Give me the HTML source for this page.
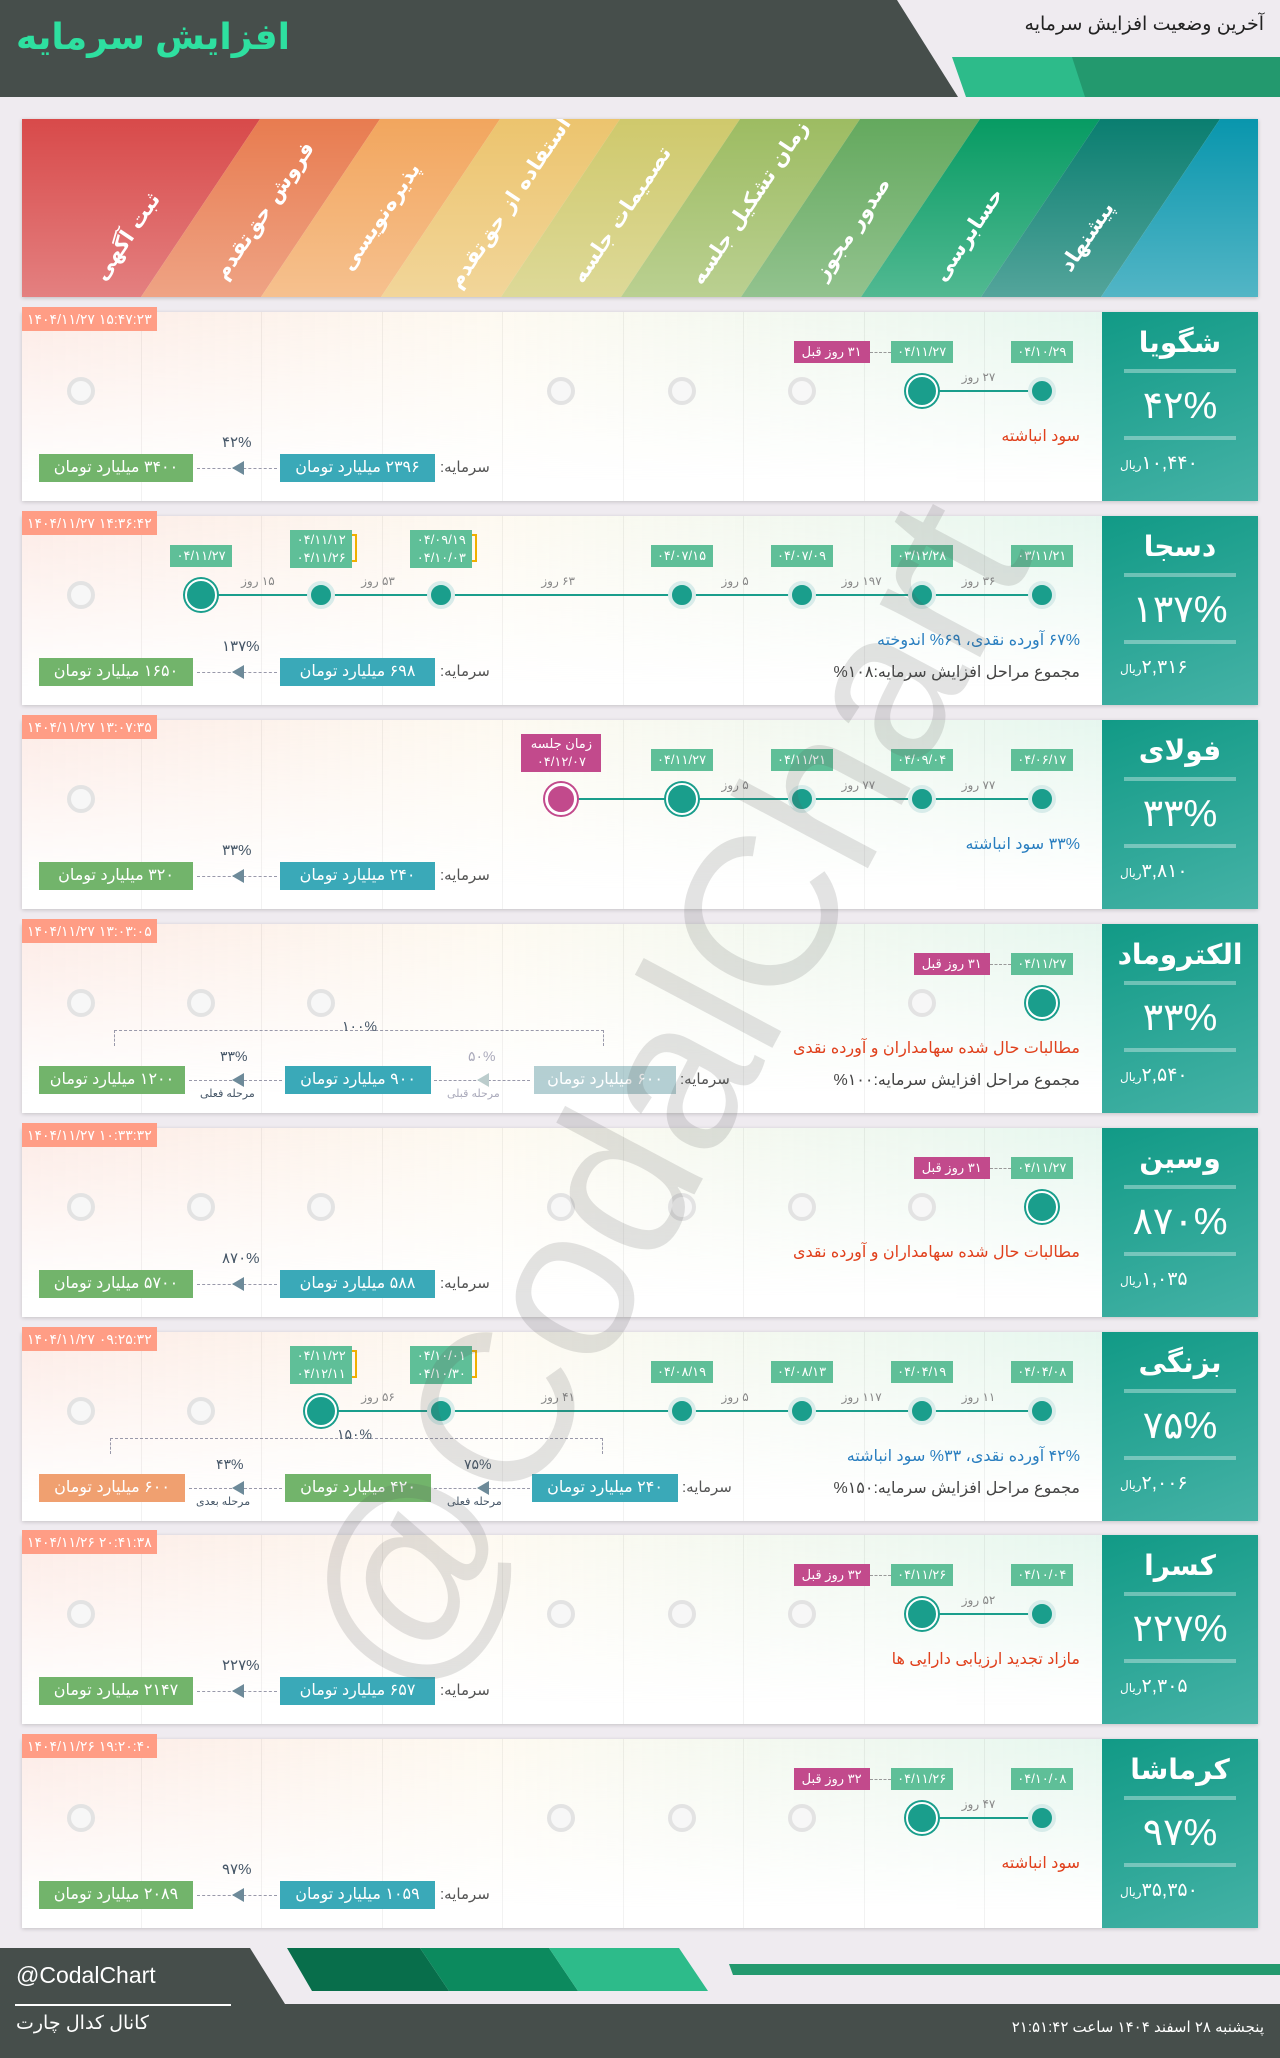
<!DOCTYPE html>
<html><head><meta charset="utf-8">
<style>
*{margin:0;padding:0;box-sizing:border-box}
body{width:1280px;height:2058px;background:#efebf0;position:relative;overflow:hidden;font-family:"Liberation Sans","DejaVu Sans",sans-serif}
.a{position:absolute}
.card{position:absolute;left:22px;width:1236px;height:189px;background:#fff;box-shadow:0 1px 4px rgba(0,0,0,.18);overflow:hidden}
.tint{position:absolute;left:0;top:0;width:1080px;height:189px;background:linear-gradient(90deg,rgba(250,215,205,.5),rgba(250,240,215,.35) 45%,rgba(210,240,225,.55));-webkit-mask:linear-gradient(#000,rgba(0,0,0,0) 90%);mask:linear-gradient(#000,rgba(0,0,0,0) 90%)}
.vl{position:absolute;top:0;width:1px;height:189px;background:rgba(0,0,0,.05)}
.panel{position:absolute;left:1080px;top:0;width:156px;height:189px;background:linear-gradient(160deg,#119a86,#45b2a6);color:#fff;text-align:center}
.ts{position:absolute;height:24px;background:#ff9d85;color:#fff;font-size:14px;line-height:24px;padding:0 5px;direction:ltr}
.c{position:absolute;width:28px;height:28px;border-radius:50%;border:4px solid #e3e3e3;background:#f7f7f7}
.tag{position:absolute;background:#5fbf98;color:#fff;font-size:13px;line-height:22px;height:22px;text-align:center;white-space:nowrap;direction:rtl}
.pk{background:#c24a8c}
.dl{position:absolute;font-size:12px;color:#888;white-space:nowrap;direction:rtl}
.box{position:absolute;height:28px;line-height:28px;color:#fff;font-size:16px;text-align:center;white-space:nowrap;direction:rtl}
.lbl{position:absolute;font-size:15px;color:#555;direction:rtl;white-space:nowrap}
.desc{position:absolute;right:178px;font-size:16px;direction:rtl;white-space:nowrap}
</style></head><body>
<svg class="a" style="left:0;top:0" width="1280" height="98">
<polygon points="0,0 897,0 958,97 0,97" fill="#464e4b"/>
<polygon points="952,57 1280,57 1280,97 966,97" fill="#2dbb8a"/>
<polygon points="1072,57 1280,57 1280,97 1085,97" fill="#23996e"/>
</svg>
<div class="a" style="left:16px;top:16px;font-size:36px;font-weight:bold;color:#2ee0a0;direction:rtl">افزایش سرمایه</div>
<div class="a" style="right:16px;top:13px;font-size:19px;color:#222;direction:rtl">آخرین وضعیت افزایش سرمایه</div>
<svg class="a" style="left:22px;top:119px;box-shadow:0 1px 4px rgba(0,0,0,.2)" width="1236" height="178" id="band"></svg>
<div id="rows"></div>
<div class="a" style="left:663px;top:1096px;transform:translate(-50%,-50%) rotate(-62deg);font-size:215px;color:rgba(90,90,90,.17);white-space:nowrap;direction:ltr">@CodalChart</div>
<svg class="a" style="left:0;top:1948px" width="1280" height="110">
<rect x="0" y="56" width="1280" height="54" fill="#464e4b"/>
<polygon points="0,0 250,0 285,56 0,56" fill="#464e4b"/>
<polygon points="287,0 420,0 449,43 312,43" fill="#086e4b"/>
<polygon points="420,0 549,0 578,43 449,43" fill="#0c8a5e"/>
<polygon points="549,0 679,0 708,43 578,43" fill="#2dbb8a"/>
<polygon points="729,16 1280,16 1280,27 733,27" fill="#23996e"/>
</svg>
<div class="a" style="left:16px;top:1962px;font-size:23px;color:#fff">@CodalChart</div>
<div class="a" style="left:15px;top:2004px;width:216px;height:2px;background:#fff"></div>
<div class="a" style="left:16px;top:2012px;font-size:19px;color:#fff;direction:rtl">کانال کدال چارت</div>
<div class="a" style="right:16px;top:2018px;font-size:15px;color:#fff;direction:rtl">پنجشنبه ۲۸ اسفند ۱۴۰۴ ساعت ۲۱:۵۱:۴۲</div>
<script>
var band=document.getElementById('band'),s='';
var cols=['#d84a4a','#e87c50','#f2a65e','#ecc46e','#cfc96c','#9dbc62','#64a95e','#079b63','#0a7e70','#0996ad'];
s+='<defs><linearGradient id="w" x1="0" y1="0" x2="0" y2="1"><stop offset="0" stop-color="#fff" stop-opacity="0"/><stop offset="1" stop-color="#fff" stop-opacity=".3"/></linearGradient></defs>';
for(var k=0;k<10;k++){var tl=k==0?0:238+120*(k-1),tr=238+120*k,bl=k==0?0:119+120*(k-1),br=119+120*k;if(k==9){tr=1400;br=1400}
s+='<polygon points="'+tl+',0 '+tr+',0 '+br+',178 '+bl+',178" fill="'+cols[k]+'"/>';}
s+='<rect width="1236" height="178" fill="url(#w)"/>';
var labs=['ثبت آگهی','فروش حق‌تقدم','پذیره‌نویسی','استفاده از حق‌تقدم','تصمیمات جلسه','زمان تشکیل جلسه','صدور مجوز','حسابرسی','پیشنهاد'];
var cys=[118,92,98,84,96,84,110,116,118];
labs.forEach(function(t,i){var cy=cys[i],cx=109+120*i-(cy-113)*119/178;s+='<text x="'+cx+'" y="'+cy+'" transform="rotate(-56 '+cx+' '+cy+')" text-anchor="middle" dominant-baseline="middle" fill="#fff" font-weight="bold" font-size="21" font-family="DejaVu Sans,sans-serif" direction="rtl">'+t+'</text>';});
band.innerHTML=s;

function cx(i){return 59+120.1*i}
var R=[
{n:'شگویا',p:'۴۲%',pr:'۱۰,۴۴۰',ts:'۱۴۰۴/۱۱/۲۷ ۱۵:۴۷:۲۳',g:[0,4,5,6],act:7,f:[8],line:[7,8],
 tags:[[8,'۰۴/۱۰/۲۹'],[7,'۰۴/۱۱/۲۷']],pink:[6.25,'۳۱ روز قبل'],days:[[7.5,'۲۷ روز']],
 d:[['سود انباشته','#e0401c']],cap:['۲۳۹۶ میلیارد تومان','۳۴۰۰ میلیارد تومان','۴۲%']},
{n:'دسجا',p:'۱۳۷%',pr:'۲,۳۱۶',ts:'۱۴۰۴/۱۱/۲۷ ۱۴:۳۶:۴۲',g:[0],act:1,f:[2,3,5,6,7,8],line:[1,8],
 tags:[[8,'۰۳/۱۱/۲۱'],[7,'۰۳/۱۲/۲۸'],[6,'۰۴/۰۷/۰۹'],[5,'۰۴/۰۷/۱۵'],[3,'۰۴/۰۹/۱۹','۰۴/۱۰/۰۳'],[2,'۰۴/۱۱/۱۲','۰۴/۱۱/۲۶'],[1,'۰۴/۱۱/۲۷']],
 days:[[7.5,'۳۶ روز'],[6.5,'۱۹۷ روز'],[5.5,'۵ روز'],[4,'۶۳ روز'],[2.5,'۵۳ روز'],[1.5,'۱۵ روز']],
 d:[['۶۷% آورده نقدی، ۶۹% اندوخته','#2a7fc0'],['مجموع مراحل افزایش سرمایه:۱۰۸%','#444']],cap:['۶۹۸ میلیارد تومان','۱۶۵۰ میلیارد تومان','۱۳۷%']},
{n:'فولای',p:'۳۳%',pr:'۳,۸۱۰',ts:'۱۴۰۴/۱۱/۲۷ ۱۳:۰۷:۳۵',g:[0],act:5,pinkc:4,f:[6,7,8],line:[4,8],
 tags:[[8,'۰۴/۰۶/۱۷'],[7,'۰۴/۰۹/۰۴'],[6,'۰۴/۱۱/۲۱'],[5,'۰۴/۱۱/۲۷']],ptag:[4,'زمان جلسه','۰۴/۱۲/۰۷'],
 days:[[7.5,'۷۷ روز'],[6.5,'۷۷ روز'],[5.5,'۵ روز']],d:[['۳۳% سود انباشته','#2a7fc0']],cap:['۲۴۰ میلیارد تومان','۳۲۰ میلیارد تومان','۳۳%']},
{n:'الکتروماد',p:'۳۳%',pr:'۲,۵۴۰',ts:'۱۴۰۴/۱۱/۲۷ ۱۳:۰۳:۰۵',g:[0,1,2,7],act:8,f:[],
 tags:[[8,'۰۴/۱۱/۲۷']],pink:[7.25,'۳۱ روز قبل'],days:[],
 d:[['مطالبات حال شده سهامداران و آورده نقدی','#e0401c'],['مجموع مراحل افزایش سرمایه:۱۰۰%','#444']],three:1},
{n:'وسین',p:'۸۷۰%',pr:'۱,۰۳۵',ts:'۱۴۰۴/۱۱/۲۷ ۱۰:۳۳:۳۲',g:[0,1,2,4,5,6,7],act:8,f:[],
 tags:[[8,'۰۴/۱۱/۲۷']],pink:[7.25,'۳۱ روز قبل'],days:[],
 d:[['مطالبات حال شده سهامداران و آورده نقدی','#e0401c']],cap:['۵۸۸ میلیارد تومان','۵۷۰۰ میلیارد تومان','۸۷۰%']},
{n:'بزنگی',p:'۷۵%',pr:'۲,۰۰۶',ts:'۱۴۰۴/۱۱/۲۷ ۰۹:۲۵:۳۲',g:[0,1],act:2,f:[3,5,6,7,8],line:[2,8],
 tags:[[8,'۰۴/۰۴/۰۸'],[7,'۰۴/۰۴/۱۹'],[6,'۰۴/۰۸/۱۳'],[5,'۰۴/۰۸/۱۹'],[3,'۰۴/۱۰/۰۱','۰۴/۱۰/۳۰'],[2,'۰۴/۱۱/۲۲','۰۴/۱۲/۱۱']],
 days:[[7.5,'۱۱ روز'],[6.5,'۱۱۷ روز'],[5.5,'۵ روز'],[4,'۴۱ روز'],[2.5,'۵۶ روز']],
 d:[['۴۲% آورده نقدی، ۳۳% سود انباشته','#2a7fc0'],['مجموع مراحل افزایش سرمایه:۱۵۰%','#444']],three:2},
{n:'کسرا',p:'۲۲۷%',pr:'۲,۳۰۵',ts:'۱۴۰۴/۱۱/۲۶ ۲۰:۴۱:۳۸',g:[0,4,5,6],act:7,f:[8],line:[7,8],
 tags:[[8,'۰۴/۱۰/۰۴'],[7,'۰۴/۱۱/۲۶']],pink:[6.25,'۳۲ روز قبل'],days:[[7.5,'۵۲ روز']],
 d:[['مازاد تجدید ارزیابی دارایی ها','#e0401c']],cap:['۶۵۷ میلیارد تومان','۲۱۴۷ میلیارد تومان','۲۲۷%']},
{n:'کرماشا',p:'۹۷%',pr:'۳۵,۳۵۰',ts:'۱۴۰۴/۱۱/۲۶ ۱۹:۲۰:۴۰',g:[0,4,5,6],act:7,f:[8],line:[7,8],
 tags:[[8,'۰۴/۱۰/۰۸'],[7,'۰۴/۱۱/۲۶']],pink:[6.25,'۳۲ روز قبل'],days:[[7.5,'۴۷ روز']],
 d:[['سود انباشته','#e0401c']],cap:['۱۰۵۹ میلیارد تومان','۲۰۸۹ میلیارد تومان','۹۷%']}
];
var out='';
function arrow(l,w,ax,c){return '<div class="a" style="left:'+l+'px;top:156px;width:'+w+'px;border-top:1px dashed #99a"></div><div class="a" style="left:'+ax+'px;top:149px;width:0;height:0;border-top:7px solid transparent;border-bottom:7px solid transparent;border-right:12px solid '+c+'"></div>';}
R.forEach(function(r,k){
 var T=Math.round(312+203.9*k),h='';
 h+='<div class="tint"></div>';
 [119,239,360,480,601,721,842,962].forEach(function(x){h+='<div class="vl" style="left:'+x+'px"></div>'});
 var cy=79;
 if(r.line)h+='<div class="a" style="left:'+cx(r.line[0])+'px;top:'+(cy-1)+'px;width:'+(cx(r.line[1])-cx(r.line[0]))+'px;height:2px;background:#1a9e8c"></div>';
 r.g.forEach(function(i){h+='<div class="c" style="left:'+(cx(i)-14)+'px;top:'+(cy-14)+'px"></div>'});
 r.f.forEach(function(i){h+='<div class="c" style="left:'+(cx(i)-14)+'px;top:'+(cy-14)+'px;background:#1a9e8c;border-color:#d8ecea"></div>'});
 h+='<div class="c" style="left:'+(cx(r.act)-16)+'px;top:'+(cy-16)+'px;width:32px;height:32px;background:#1a9e8c;border:2px solid #fff;box-shadow:0 0 0 2px #1a9e8c"></div>';
 if(r.pinkc!=null)h+='<div class="c" style="left:'+(cx(r.pinkc)-16)+'px;top:'+(cy-16)+'px;width:32px;height:32px;background:#c24a8c;border:3px solid #fff;box-shadow:0 0 0 2px #c24a8c"></div>';
 r.tags.forEach(function(t){var x=cx(t[0]);if(t[2]){h+='<div class="tag" style="left:'+(x-31)+'px;top:14px;width:62px;height:38px;line-height:18px;padding-top:1px">'+t[1]+'<br>'+t[2]+'</div><div class="a" style="left:'+(x+31)+'px;top:18px;width:5px;height:28px;border:2px solid #f0b000;border-left:none"></div>';}
  else h+='<div class="tag" style="left:'+(x-31)+'px;top:29px;width:62px">'+t[1]+'</div>';});
 if(r.ptag){var x=cx(r.ptag[0]);h+='<div class="tag pk" style="left:'+(x-40)+'px;top:14px;width:80px;height:38px;line-height:18px;padding-top:1px">'+r.ptag[1]+'<br>'+r.ptag[2]+'</div>';}
 if(r.pink){var x=cx(r.pink[0]);h+='<div class="tag pk" style="left:'+(x-38)+'px;top:29px;width:76px">'+r.pink[1]+'</div><div class="a" style="left:'+(x+38)+'px;top:40px;width:'+(cx(Math.ceil(r.pink[0]))-31-x-38)+'px;border-top:1px dashed #999"></div>';}
 r.days.forEach(function(d){h+='<div class="dl" style="left:'+(cx(d[0])-20)+'px;top:58px">'+d[1]+'</div>'});
 r.d.forEach(function(d,j){h+='<div class="desc" style="top:'+(j?146:114)+'px;color:'+d[1]+'">'+d[0]+'</div>'});
 if(r.cap){
  h+='<div class="box" style="left:258px;top:142px;width:155px;background:#3aa9b8">'+r.cap[0]+'</div>';
  h+='<div class="lbl" style="left:418px;top:146px">سرمایه:</div>';
  h+='<div class="box" style="left:17px;top:142px;width:154px;background:#72b46b">'+r.cap[1]+'</div>';
  h+=arrow(175,80,210,'#6d8a99');
  h+='<div class="a" style="left:200px;top:121px;font-size:15px;color:#456">'+r.cap[2]+'</div>';
 } else if(r.three==1){
  h+='<div class="a" style="left:92px;top:106px;width:490px;height:16px;border:1px dashed #99a;border-bottom:none"></div><div class="a" style="left:320px;top:94px;font-size:14px;color:#456">۱۰۰%</div>';
  h+='<div class="box" style="left:512px;top:142px;width:142px;background:rgba(106,159,168,.5)">۶۰۰ میلیارد تومان</div>';
  h+='<div class="lbl" style="left:658px;top:146px">سرمایه:</div>';
  h+='<div class="box" style="left:263px;top:142px;width:146px;background:#3aa9b8">۹۰۰ میلیارد تومان</div>';
  h+='<div class="box" style="left:17px;top:142px;width:146px;background:#72b46b">۱۲۰۰ میلیارد تومان</div>';
  h+=arrow(412,96,455,'#bcc');
  h+='<div class="a" style="left:446px;top:124px;font-size:14px;color:#aab">۵۰%</div><div class="a" style="left:425px;top:163px;font-size:11px;color:#aab;direction:rtl">مرحله قبلی</div>';
  h+=arrow(167,93,210,'#6d8a99');
  h+='<div class="a" style="left:198px;top:124px;font-size:14px;color:#456">۳۳%</div><div class="a" style="left:178px;top:163px;font-size:11px;color:#456;direction:rtl">مرحله فعلی</div>';
 } else {
  h+='<div class="a" style="left:88px;top:106px;width:493px;height:16px;border:1px dashed #99a;border-bottom:none"></div><div class="a" style="left:315px;top:94px;font-size:14px;color:#456">۱۵۰%</div>';
  h+='<div class="box" style="left:510px;top:142px;width:146px;background:#3aa9b8">۲۴۰ میلیارد تومان</div>';
  h+='<div class="lbl" style="left:660px;top:146px">سرمایه:</div>';
  h+='<div class="box" style="left:263px;top:142px;width:146px;background:#72b46b">۴۲۰ میلیارد تومان</div>';
  h+='<div class="box" style="left:17px;top:142px;width:146px;background:#f0a070">۶۰۰ میلیارد تومان</div>';
  h+=arrow(412,96,455,'#6d8a99');
  h+='<div class="a" style="left:442px;top:124px;font-size:14px;color:#456">۷۵%</div><div class="a" style="left:425px;top:163px;font-size:11px;color:#456;direction:rtl">مرحله فعلی</div>';
  h+=arrow(167,93,210,'#6d8a99');
  h+='<div class="a" style="left:194px;top:124px;font-size:14px;color:#456">۴۳%</div><div class="a" style="left:174px;top:163px;font-size:11px;color:#456;direction:rtl">مرحله بعدی</div>';
 }
 h+='<div class="panel"><div style="margin-top:14px;font-size:28px;font-weight:bold;direction:rtl;white-space:nowrap">'+r.n+'</div><div style="margin:10px auto 0;width:112px;height:4px;background:rgba(255,255,255,.35)"></div><div style="margin-top:10px;font-size:38px;direction:ltr">'+r.p+'</div><div style="margin:8px auto 0;width:112px;height:4px;background:rgba(255,255,255,.35)"></div><div style="margin-top:12px;font-size:19px;direction:rtl;text-align:left;padding-left:18px;white-space:nowrap">'+r.pr+'<span style="font-size:12px">ریال</span></div></div>';
 out+='<div class="card" style="top:'+T+'px">'+h+'</div><div class="ts" style="left:22px;top:'+(T-5)+'px">'+r.ts+'</div>';
});
document.getElementById('rows').innerHTML=out;
</script>
</body></html>
